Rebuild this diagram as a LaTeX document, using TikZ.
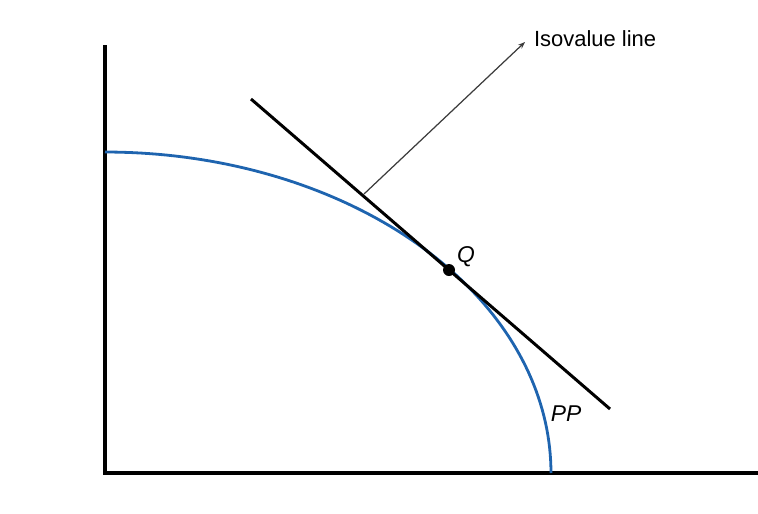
\documentclass[tikz,border=0pt]{standalone}
\usepackage{fontspec}
\setmainfont{Liberation Sans}
\usetikzlibrary{arrows.meta,positioning,calc}
\definecolor{ppblue}{RGB}{30,100,175}
\definecolor{leadgray}{RGB}{60,60,60}

\begin{document}
\begin{tikzpicture}[x=0.02cm, y=-0.02cm,
    axisline/.style={line width=1.9pt, black},
    tanline/.style={line width=1.7pt, black},
    leader/.style={line width=0.7pt, leadgray, -{Stealth[length=4pt,width=3pt]}},
    lbl/.style={font=\fontsize{12.5}{15}\selectfont, inner sep=1pt}]
    \useasboundingbox (0,0) rectangle (758,514);
    % Axes
    \coordinate (O) at (105,473);
    \coordinate (ytop) at (105,45);
    \coordinate (xend) at (758,473);
    \draw[axisline] (ytop) -- (O) -- (xend);
    % Production possibility frontier
    \draw[line width=1.6pt, ppblue] plot[domain=0:90, samples=80]
      ({105+446*cos(\x)}, {473-321*sin(\x)});
    \node[lbl, font=\fontsize{13}{15}\selectfont\itshape] (pp) at (566,414) {PP};
    % Isovalue line, tangent at Q
    \coordinate (t1) at (251,99);
    \coordinate (t2) at (610,409);
    \draw[tanline] (t1) -- (t2);
    \fill (449,270) circle (6) coordinate (Q);
    \node[lbl, font=\fontsize{13}{15}\selectfont\itshape] (qlab) at (466,257) {Q};
    % Leader to label
    \coordinate (lstart) at (364,194);
    \node[lbl, anchor=west] (iso) at (532,39) {Isovalue line};
    \draw[leader] (lstart) -- ($(iso.west)+(-7,3)$);
  \end{tikzpicture}
\end{document}
